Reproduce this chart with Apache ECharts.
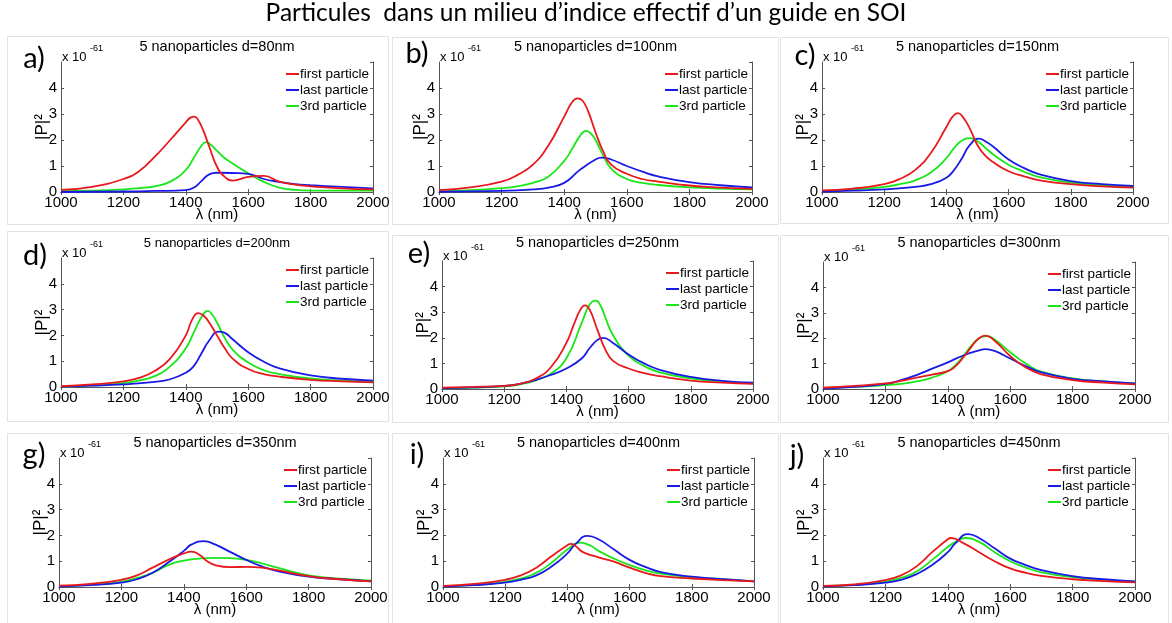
<!DOCTYPE html>
<html>
<head>
<meta charset="utf-8">
<script src="https://cdn.jsdelivr.net/npm/echarts@6/dist/echarts.min.js"></script>
<style>
  html, body { margin: 0; padding: 0; background: #fff; }
  #chart { width: 1172px; height: 623px; }
</style>
</head>
<body>
<div id="chart"></div>
<script>
// |P|^2 (x 10^-61) vs lambda (nm)
const seriesNames = ['first particle', 'last particle', '3rd particle'];
const panelLabels = ['a)', 'b)', 'c)', 'd)', 'e)', '', 'g)', 'i)', 'j)'];
const diameters = [80, 100, 150, 200, 250, 300, 350, 400, 450];

const a_first = [[1000,0.08],[1100,0.2],[1200,0.5],[1250,0.8],[1300,1.35],[1350,2.0],[1400,2.68],[1415,2.86],[1428,2.9],[1440,2.76],[1455,2.4],[1475,1.75],[1500,0.97],[1525,0.58],[1550,0.44],[1600,0.58],[1650,0.62],[1700,0.4],[1750,0.28],[1800,0.22],[1900,0.14],[2000,0.1]];
const a_last = [[1000,0.0],[1200,0.02],[1300,0.04],[1400,0.07],[1425,0.16],[1450,0.42],[1475,0.68],[1500,0.74],[1550,0.73],[1600,0.7],[1650,0.5],[1700,0.39],[1750,0.3],[1800,0.26],[1900,0.2],[2000,0.14]];
const a_third = [[1000,0.03],[1100,0.05],[1200,0.1],[1250,0.15],[1300,0.22],[1350,0.4],[1400,0.85],[1425,1.3],[1450,1.78],[1465,1.92],[1480,1.82],[1500,1.58],[1525,1.3],[1550,1.1],[1600,0.72],[1650,0.39],[1700,0.17],[1750,0.08],[1800,0.05],[1900,0.05],[2000,0.05]];

const b_first = [[1000,0.07],[1100,0.18],[1200,0.4],[1250,0.65],[1300,1.05],[1350,1.8],[1400,2.9],[1425,3.45],[1442,3.6],[1458,3.52],[1475,3.15],[1500,2.3],[1525,1.55],[1550,1.05],[1600,0.7],[1650,0.5],[1700,0.4],[1800,0.25],[1900,0.17],[2000,0.12]];
const b_last = [[1000,0.01],[1200,0.04],[1300,0.1],[1350,0.17],[1400,0.35],[1450,0.85],[1500,1.25],[1520,1.32],[1550,1.25],[1600,1.0],[1650,0.78],[1700,0.6],[1800,0.38],[1900,0.26],[2000,0.18]];
const b_third = [[1000,0.03],[1100,0.07],[1200,0.15],[1250,0.22],[1300,0.35],[1350,0.6],[1400,1.2],[1425,1.65],[1450,2.15],[1470,2.35],[1485,2.25],[1500,2.0],[1525,1.4],[1550,0.9],[1600,0.5],[1650,0.35],[1700,0.27],[1800,0.18],[1900,0.13],[2000,0.1]];

const c_first = [[1000,0.06],[1100,0.13],[1200,0.3],[1250,0.5],[1300,0.85],[1350,1.5],[1400,2.5],[1420,2.9],[1437,3.03],[1452,2.9],[1475,2.45],[1500,1.8],[1525,1.4],[1550,1.15],[1600,0.8],[1650,0.6],[1700,0.45],[1800,0.3],[1900,0.22],[2000,0.17]];
const c_last = [[1000,0.02],[1100,0.05],[1200,0.1],[1300,0.2],[1350,0.3],[1400,0.55],[1425,0.85],[1450,1.3],[1475,1.8],[1505,2.05],[1525,1.95],[1550,1.75],[1600,1.25],[1650,0.92],[1700,0.68],[1800,0.42],[1900,0.3],[2000,0.23]];
const c_third = [[1000,0.04],[1100,0.1],[1200,0.2],[1250,0.3],[1300,0.45],[1350,0.75],[1400,1.3],[1425,1.7],[1450,1.98],[1475,2.07],[1500,1.95],[1525,1.7],[1550,1.45],[1600,1.05],[1650,0.78],[1700,0.57],[1800,0.36],[1900,0.26],[2000,0.2]];

const d_first = [[1000,0.03],[1100,0.1],[1200,0.22],[1250,0.35],[1300,0.62],[1350,1.1],[1400,2.0],[1420,2.6],[1440,2.86],[1458,2.75],[1475,2.5],[1500,2.0],[1525,1.5],[1550,1.1],[1600,0.7],[1650,0.5],[1700,0.4],[1800,0.28],[1900,0.22],[2000,0.18]];
const d_last = [[1000,0.02],[1100,0.05],[1200,0.1],[1300,0.2],[1350,0.3],[1400,0.55],[1425,0.8],[1450,1.3],[1475,1.8],[1505,2.15],[1525,2.1],[1550,1.85],[1600,1.35],[1650,0.98],[1700,0.72],[1800,0.45],[1900,0.32],[2000,0.25]];
const d_third = [[1000,0.02],[1100,0.06],[1200,0.15],[1250,0.25],[1300,0.42],[1350,0.8],[1400,1.5],[1425,2.1],[1450,2.7],[1470,2.95],[1485,2.8],[1500,2.5],[1525,1.9],[1550,1.45],[1600,0.95],[1650,0.65],[1700,0.5],[1800,0.33],[1900,0.25],[2000,0.2]];

const e_first = [[1000,0.05],[1100,0.08],[1200,0.12],[1250,0.2],[1300,0.4],[1350,0.85],[1400,1.8],[1425,2.55],[1445,3.1],[1460,3.27],[1475,3.1],[1500,2.3],[1525,1.55],[1550,1.1],[1600,0.8],[1650,0.62],[1700,0.5],[1800,0.33],[1900,0.25],[2000,0.2]];
const e_last = [[1000,0.03],[1100,0.06],[1200,0.12],[1250,0.2],[1300,0.35],[1350,0.55],[1400,0.8],[1450,1.2],[1475,1.6],[1500,1.92],[1518,2.0],[1550,1.8],[1600,1.35],[1650,1.0],[1700,0.75],[1800,0.47],[1900,0.32],[2000,0.25]];
const e_third = [[1000,0.02],[1100,0.05],[1200,0.1],[1250,0.18],[1300,0.33],[1350,0.6],[1400,1.2],[1450,2.6],[1475,3.3],[1495,3.45],[1510,3.25],[1525,2.8],[1550,2.1],[1600,1.3],[1650,0.9],[1700,0.65],[1800,0.42],[1900,0.3],[2000,0.22]];

const f_first = [[1000,0.05],[1100,0.12],[1200,0.22],[1250,0.32],[1300,0.45],[1350,0.57],[1400,0.7],[1425,0.9],[1450,1.25],[1475,1.65],[1500,2.0],[1520,2.1],[1550,1.9],[1600,1.3],[1650,0.85],[1700,0.58],[1800,0.35],[1900,0.25],[2000,0.18]];
const f_last = [[1000,0.02],[1100,0.08],[1200,0.2],[1250,0.35],[1300,0.55],[1350,0.8],[1400,1.05],[1450,1.32],[1500,1.52],[1520,1.57],[1550,1.5],[1600,1.2],[1650,0.9],[1700,0.65],[1800,0.4],[1900,0.3],[2000,0.22]];
const f_third = [[1000,0.04],[1100,0.08],[1200,0.15],[1250,0.2],[1300,0.3],[1350,0.45],[1400,0.7],[1425,0.95],[1450,1.3],[1475,1.7],[1500,2.0],[1525,2.08],[1550,1.95],[1600,1.45],[1650,1.0],[1700,0.68],[1800,0.42],[1900,0.3],[2000,0.22]];

const g_first = [[1000,0.05],[1100,0.12],[1200,0.28],[1250,0.45],[1300,0.75],[1350,1.05],[1400,1.3],[1425,1.37],[1450,1.25],[1475,1.0],[1500,0.85],[1550,0.77],[1600,0.78],[1650,0.75],[1700,0.65],[1800,0.42],[1900,0.3],[2000,0.22]];
const g_last = [[1000,0.02],[1100,0.07],[1200,0.17],[1250,0.3],[1300,0.55],[1350,0.95],[1400,1.4],[1425,1.65],[1465,1.78],[1500,1.65],[1550,1.35],[1600,1.05],[1650,0.8],[1700,0.62],[1800,0.4],[1900,0.3],[2000,0.22]];
const g_third = [[1000,0.03],[1100,0.08],[1200,0.2],[1250,0.35],[1300,0.55],[1350,0.85],[1400,1.02],[1450,1.1],[1500,1.13],[1550,1.12],[1600,1.05],[1650,0.92],[1700,0.75],[1800,0.45],[1900,0.32],[2000,0.25]];

const i_first = [[1000,0.04],[1100,0.12],[1200,0.28],[1250,0.45],[1300,0.75],[1350,1.2],[1400,1.62],[1410,1.67],[1425,1.6],[1450,1.35],[1500,1.15],[1550,0.98],[1600,0.75],[1650,0.55],[1700,0.42],[1800,0.33],[1900,0.27],[2000,0.22]];
const i_last = [[1000,0.02],[1100,0.07],[1200,0.17],[1250,0.28],[1300,0.45],[1350,0.8],[1400,1.3],[1425,1.65],[1465,1.98],[1500,1.85],[1550,1.45],[1600,1.05],[1650,0.78],[1700,0.58],[1800,0.4],[1900,0.3],[2000,0.22]];
const i_third = [[1000,0.03],[1100,0.08],[1200,0.2],[1250,0.33],[1300,0.55],[1350,0.95],[1400,1.45],[1440,1.72],[1475,1.6],[1500,1.4],[1550,1.1],[1600,0.85],[1650,0.65],[1700,0.52],[1800,0.38],[1900,0.3],[2000,0.22]];

const j_first = [[1000,0.04],[1100,0.1],[1200,0.27],[1250,0.45],[1300,0.8],[1350,1.35],[1400,1.85],[1410,1.9],[1450,1.7],[1500,1.35],[1550,1.0],[1600,0.72],[1650,0.55],[1700,0.43],[1800,0.3],[1900,0.23],[2000,0.18]];
const j_last = [[1000,0.02],[1100,0.07],[1200,0.17],[1250,0.28],[1300,0.5],[1350,0.85],[1400,1.35],[1425,1.7],[1465,2.05],[1500,1.9],[1550,1.5],[1600,1.1],[1650,0.85],[1700,0.65],[1800,0.42],[1900,0.3],[2000,0.22]];
const j_third = [[1000,0.03],[1100,0.08],[1200,0.2],[1250,0.35],[1300,0.6],[1350,1.05],[1400,1.55],[1425,1.75],[1455,1.9],[1500,1.75],[1550,1.35],[1600,1.0],[1650,0.75],[1700,0.57],[1800,0.38],[1900,0.28],[2000,0.22]];

const panelData = [
  [a_first, a_last, a_third], [b_first, b_last, b_third], [c_first, c_last, c_third],
  [d_first, d_last, d_third], [e_first, e_last, e_third], [f_first, f_last, f_third],
  [g_first, g_last, g_third], [i_first, i_last, i_third], [j_first, j_last, j_third]
];

// layout: plot box [left, top, width, height], title y, label x/y, grey frame
const boxes = [
  [61, 62, 312, 130], [439, 62, 313, 130], [822, 62, 311, 130],
  [61, 258, 312, 129], [442, 261, 311, 128], [823, 262, 312, 127],
  [59, 458, 312, 129], [443, 458, 311, 129], [823, 458, 312, 129]
];
const titleY = [47, 47, 47, 243, 243, 243, 443, 443, 443];
const labelPos = [[34, 59], [417, 54], [805, 56], [35, 256], [419, 254], [0, 0], [34, 455], [417, 455], [797, 456]];
const frames = [
  [7, 36, 381, 188], [392, 37, 386, 187], [780, 37, 388, 186],
  [7, 231, 381, 190], [392, 235, 386, 187], [780, 235, 388, 187],
  [7, 433, 381, 190], [392, 433, 386, 190], [780, 433, 388, 190]
];

const colors = ['#e8191c', '#1a1ae6', '#19e619'];
const sans = 'Liberation Sans, Arial, sans-serif';

const grid = [], xAxis = [], yAxis = [], series = [], legend = [], graphic = [];

graphic.push({
  type: 'text', left: 'center', top: 1,
  style: { text: 'Particules  dans un milieu d\u2019indice effectif d\u2019un guide en SOI', font: '24.5px Lato, "Open Sans", sans-serif', fill: '#000' }
});

boxes.forEach(function (b, i) {
  const [gx, gy, gw, gh] = b;
  const f = frames[i];
  graphic.push({ type: 'rect', z: -10, shape: { x: f[0] + 0.5, y: f[1] + 0.5, width: f[2], height: f[3] }, style: { fill: 'none', stroke: '#e2e2e2', lineWidth: 1 } });

  grid.push({ left: gx, top: gy, width: gw, height: gh, show: false });
  const axLine = { show: true, lineStyle: { color: '#555', width: 1 } };
  const tick = { show: true, inside: true, length: 3, lineStyle: { color: '#555' } };
  xAxis.push({
    type: 'value', gridIndex: i, min: 1000, max: 2000, interval: 200, position: 'bottom',
    axisLine: axLine, axisTick: tick, splitLine: { show: false },
    axisLabel: { color: '#000', fontSize: 15, fontFamily: sans, margin: 3, formatter: function (v) { return String(v); } }
  });
  xAxis.push({
    type: 'value', gridIndex: i, min: 1000, max: 2000, interval: 200, position: 'top',
    axisLine: axLine, axisTick: tick, splitLine: { show: false }, axisLabel: { show: false }
  });
  yAxis.push({
    type: 'value', gridIndex: i, min: 0, max: 5, interval: 1, position: 'left',
    axisLine: axLine, axisTick: tick, splitLine: { show: false },
    axisLabel: { color: '#000', fontSize: 15, fontFamily: sans, margin: 4, showMaxLabel: false }
  });
  yAxis.push({
    type: 'value', gridIndex: i, min: 0, max: 5, interval: 1, position: 'right',
    axisLine: axLine, axisTick: tick, splitLine: { show: false }, axisLabel: { show: false }
  });

  panelData[i].forEach(function (d, k) {
    series.push({
      name: seriesNames[k], type: 'line', xAxisIndex: 2 * i, yAxisIndex: 2 * i,
      data: d, smooth: 0.5, symbol: 'none', showSymbol: false,
      lineStyle: { color: colors[k], width: 1.8 }, itemStyle: { color: colors[k] },
      z: k === 0 ? 4 : (k === 1 ? 3 : 2), silent: true
    });
  });

  legend.push({
    data: seriesNames, orient: 'vertical', left: gx + gw - 92, top: gy,
    icon: 'rect', itemWidth: 13, itemHeight: 2, itemGap: 2, selectedMode: false,
    textStyle: { fontSize: 13.5, fontFamily: sans, color: '#000', padding: [0, 0, 0, -4] }
  });

  // panel title, exponent, axis names, panel letter
  graphic.push({ type: 'text', x: gx + gw / 2, y: titleY[i], style: { text: '5 nanoparticles d=' + diameters[i] + 'nm', font: (i === 3 ? 13 : 14.5) + 'px ' + sans, fill: '#000', align: 'center', verticalAlign: 'middle' } });
  graphic.push({ type: 'text', x: gx + 1, y: gy - 5, style: { text: 'x 10', font: '13px ' + sans, fill: '#000', align: 'left', verticalAlign: 'middle' } });
  graphic.push({ type: 'text', x: gx + 29, y: gy - 13, style: { text: '-61', font: '9px ' + sans, fill: '#000', align: 'left', verticalAlign: 'middle' } });
  graphic.push({ type: 'text', x: gx - 19, y: gy + gh / 2, rotation: Math.PI / 2, style: { text: '|P|\u00b2', font: '17px ' + sans, fill: '#000', align: 'center', verticalAlign: 'middle' } });
  graphic.push({ type: 'text', x: gx + gw / 2, y: gy + gh + 23, style: { text: '\u03bb (nm)', font: '15px ' + sans, fill: '#000', align: 'center', verticalAlign: 'middle' } });
  if (panelLabels[i]) {
    graphic.push({ type: 'text', x: labelPos[i][0], y: labelPos[i][1], style: { text: panelLabels[i], font: '29px Lato, "Open Sans", sans-serif', fill: '#000', align: 'center', verticalAlign: 'middle' } });
  }
});

const chart = echarts.init(document.getElementById('chart'));
chart.setOption({
  animation: false,
  backgroundColor: '#fff',
  grid: grid, xAxis: xAxis, yAxis: yAxis, series: series, legend: legend, graphic: graphic
});
window.onresize = function () { chart.resize(); };
</script>
</body>
</html>
